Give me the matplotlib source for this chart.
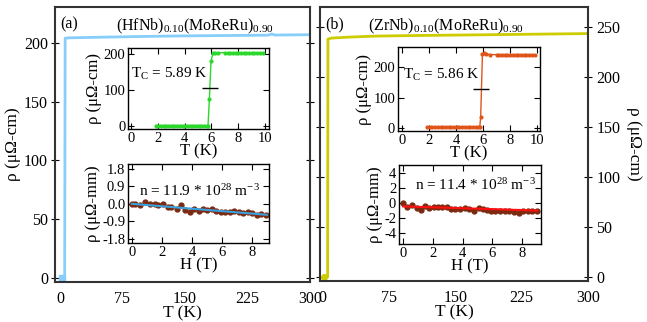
import matplotlib
matplotlib.use("Agg")
import matplotlib.pyplot as plt

plt.rcParams['font.family'] = ['Liberation Serif', 'DejaVu Serif']
plt.rcParams['mathtext.fontset'] = 'custom'
plt.rcParams['mathtext.rm'] = 'Liberation Serif'
plt.rcParams['mathtext.it'] = 'Liberation Serif:italic'
plt.rcParams['axes.unicode_minus'] = False

# ---------------- data ----------------
# Panel (a) main: rho vs T
Ta_main = [2, 5.6, 6.2, 10, 30, 60, 100, 150, 200, 250, 254, 258, 300]
Ra_main = [0, 0, 204, 204.3, 204.6, 205.0, 205.5, 206.0, 206.3, 206.6, 207.6, 206.7, 207.0]
# Panel (b) main
Tb_main = [2, 5.6, 6.0, 10, 30, 60, 100, 150, 200, 250, 300]
Rb_main = [0, 0, 238, 239, 240, 241, 241.5, 242, 242.5, 243, 243.5]

# Panel (a) inset: low-T transition
Ta_in = [1.85, 2.05, 2.25, 2.45, 2.65, 2.85, 3.05, 3.25, 3.45, 3.65, 3.85, 4.05, 4.25,
         4.45, 4.65, 4.85, 5.05, 5.25, 5.45, 5.65, 5.75, 5.85, 5.97, 6.12, 6.3, 6.5,
         7.0, 7.2, 7.4, 7.6, 7.8, 8.0, 8.2, 8.4, 8.6, 8.8, 9.0, 9.2, 9.4, 9.6, 9.85]
Ra_in = [2, 2, 2, 2, 2, 2, 2, 2, 2, 2, 2, 2, 2,
         2, 2, 2, 2, 2, 2, 2, 2, 75, 180, 203, 204, 204,
         204, 204, 204, 204, 204, 204, 204, 204, 204, 204, 204, 204, 204, 204, 204]
Tc_a = 5.89
Tc_a_rho = 106

# Panel (b) inset
Tb_in = [1.85, 2.05, 2.25, 2.45, 2.65, 2.85, 3.05, 3.25, 3.45, 3.65, 3.85, 4.05, 4.25,
         4.45, 4.65, 4.85, 5.05, 5.25, 5.45, 5.65, 5.75, 5.82, 5.95, 6.05, 6.25, 6.5,
         7.0, 7.2, 7.4, 7.6, 7.8, 8.0, 8.2, 8.4, 8.6, 8.8, 9.0, 9.2, 9.4, 9.6, 9.85]
Rb_in = [2, 2, 2, 2, 2, 2, 2, 2, 2, 2, 2, 2, 2,
         2, 2, 2, 2, 2, 2, 2, 2, 36, 244, 245, 243, 241,
         241, 241, 241, 241, 241, 241, 241, 241, 241, 241, 241, 241, 241, 241, 241]
Tc_b = 5.86
Tc_b_rho = 127

# Hall data
Ha = [0, 0.2, 0.53, 0.87, 1.2, 1.53, 1.76, 2.09, 2.38, 2.64, 2.98, 3.27, 3.53, 3.87,
      4.15, 4.47, 4.75, 5.04, 5.36, 5.64, 5.93, 6.2, 6.53, 6.82, 7.13, 7.42, 7.76,
      8.04, 8.31, 8.64, 8.91]
Rha = [0.0, -0.03, -0.05, 0.07, 0.0, -0.03, -0.07, 0.0, -0.14, -0.15, -0.24, -0.08,
       -0.3, -0.42, -0.25, -0.36, -0.27, -0.3, -0.27, -0.36, -0.44, -0.42, -0.42,
       -0.39, -0.42, -0.47, -0.44, -0.49, -0.59, -0.51, -0.57]
fit_a_H = [0, 9]
fit_a_R = [0.0, -0.56]

Hb = [0, 0.25, 0.58, 0.92, 1.2, 1.48, 1.77, 2.05, 2.34, 2.62, 2.95, 3.24, 3.51, 3.85,
      4.14, 4.45, 4.74, 5.07, 5.34, 5.63, 5.92, 6.19, 6.52, 6.82, 7.13, 7.42, 7.76,
      8.04, 8.37, 8.64, 8.97]
Rhb = [0.0, -0.5, -0.27, -0.63, -0.86, -0.36, -0.59, -0.54, -0.5, -0.5, -0.5, -0.72,
       -0.81, -0.72, -0.63, -0.72, -0.95, -0.59, -0.77, -0.86, -0.95, -1.04, -1.04,
       -0.95, -1.04, -1.17, -1.22, -0.95, -1.04, -1.04, -0.95]
fit_b_H = [0, 9]
fit_b_R = [-0.4, -0.95]

# ---------------- colors ----------------
c_a = '#87CEFA'
c_b = '#CCCC00'
c_green = '#2BD82B'
c_orange = '#E0541A'
c_dot = '#7A2A10'
c_fit_a = '#3AA0E0'
c_fit_b = '#FF1010'

fig = plt.figure(figsize=(6.47, 3.22), dpi=100)

# main axes
axa = fig.add_axes([0.085, 0.124, 0.394, 0.854])
axb = fig.add_axes([0.4946, 0.127, 0.414, 0.851])

FS = 11.5
for ax in (axa, axb):
    for s in ax.spines.values():
        s.set_linewidth(1.5)
        s.set_color('#333333')

axa.plot(Ta_main, Ra_main, color=c_a, lw=2)
axa.plot([Ta_main[0]], [Ra_main[0]], 's', color=c_a, ms=4)
axa.set_xlim(-6, 300)
axa.set_ylim(-3.5, 230.5)
axa.set_xticks([0, 75, 150, 225, 300])
axa.set_yticks([0, 50, 100, 150, 200])
axa.tick_params(axis='y', which='both', left=True, right=True, direction='inout', length=6,
                labelsize=FS, pad=2)
axa.tick_params(axis='x', bottom=False, labelsize=FS, pad=3)
axa.set_xlabel('T (K)', fontsize=FS + 1, labelpad=-1)
axa.set_ylabel('ρ (μΩ-cm)', fontsize=FS + 1, labelpad=2)
axa.text(0.02, 0.965, '(a)', transform=axa.transAxes, fontsize=FS, va='top')
axa.text(0.55, 0.965, '(HfNb)$_{0.10}$(MoReRu)$_{0.90}$', transform=axa.transAxes,
         fontsize=FS, va='top', ha='center')

axb.plot(Tb_main, Rb_main, color=c_b, lw=2)
axb.plot([Tb_main[0]], [Rb_main[0]], 'o', color=c_b, ms=4)
axb.set_xlim(-3, 300)
axb.set_ylim(-4, 270)
axb.set_xticks([0, 75, 150, 225, 300])
axb.set_yticks([0, 50, 100, 150, 200, 250])
axb.yaxis.tick_right()
axb.yaxis.set_label_position('right')
axb.tick_params(axis='y', which='both', left=True, right=True, labelleft=False, labelright=True,
                direction='inout', length=6, labelsize=FS, pad=3)
axb.tick_params(axis='x', bottom=False, labelsize=FS, pad=3)
axb.set_xlabel('T (K)', fontsize=FS + 1, labelpad=-1)
axb.set_ylabel('ρ (μΩ-cm)', fontsize=FS + 1, rotation=270, labelpad=16)
axb.text(0.02, 0.965, '(b)', transform=axb.transAxes, fontsize=FS, va='top')
axb.text(0.47, 0.965, '(ZrNb)$_{0.10}$(MoReRu)$_{0.90}$', transform=axb.transAxes,
         fontsize=FS, va='top', ha='center')

IFS = 10.5

def style_inset(ax):
    for s in ax.spines.values():
        s.set_linewidth(1.0)
        s.set_color('black')
    ax.tick_params(direction='in', top=True, right=True, length=4, labelsize=IFS, pad=2)

# inset a upper
ia1 = fig.add_axes([0.198, 0.599, 0.218, 0.252])
style_inset(ia1)
ia1.plot(Ta_in, Ra_in, '-o', color=c_green, ms=2, lw=1)
ia1.plot([Tc_a], [Tc_a_rho], marker='_', color='black', ms=11, mew=1)
ia1.set_xlim(-0.2, 10.3)
ia1.set_ylim(-8, 217)
ia1.set_xticks([0, 2, 4, 6, 8, 10])
ia1.set_yticks([0, 100, 200])
ia1.set_xlabel('T (K)', fontsize=IFS + 1.5, labelpad=-1)
ia1.set_ylabel('ρ (μΩ-cm)', fontsize=IFS + 1.5, labelpad=1)
ia1.text(0.05, 145, 'T$_\\mathrm{C}$ = 5.89 K', fontsize=IFS + 0.5, va='center')

# inset a lower
ia2 = fig.add_axes([0.198, 0.2453, 0.218, 0.2453])
style_inset(ia2)
ia2.plot(Ha, Rha, 'o', color=c_dot, ms=3.5)
ia2.plot(fit_a_H, fit_a_R, '-', color=c_fit_a, lw=1.5)
ia2.set_xlim(-0.25, 9.15)
ia2.set_ylim(-2.0, 2.03)
ia2.set_xticks([0, 2, 4, 6, 8])
ia2.set_yticks([1.8, 0.9, 0.0, -0.9, -1.8])
ia2.set_yticklabels(['1.8', '0.9', '0.0', '-0.9', '-1.8'])
ia2.set_xlabel('H (T)', fontsize=IFS + 1.5, labelpad=-1)
ia2.set_ylabel('ρ (μΩ-mm)', fontsize=IFS + 1.5, labelpad=1)
ia2.text(0.45, 0.65, 'n = 11.9 * 10$^{28}$ m$^{-3}$', fontsize=IFS + 0.5, va='center')

# inset b upper
ib1 = fig.add_axes([0.615, 0.593, 0.2195, 0.261])
style_inset(ib1)
ib1.plot(Tb_in, Rb_in, '-o', color=c_orange, ms=2, lw=1)
ib1.plot([Tc_b], [Tc_b_rho], marker='_', color='black', ms=11, mew=1)
ib1.set_xlim(-0.3, 10.2)
ib1.set_ylim(-10, 266)
ib1.set_xticks([0, 2, 4, 6, 8, 10])
ib1.set_yticks([0, 100, 200])
ib1.set_xlabel('T (K)', fontsize=IFS + 1.5, labelpad=-1)
ib1.set_ylabel('ρ (μΩ-cm)', fontsize=IFS + 1.5, labelpad=1)
ib1.text(0.05, 175, 'T$_\\mathrm{C}$ = 5.86 K', fontsize=IFS + 0.5, va='center')

# inset b lower
ib2 = fig.add_axes([0.6167, 0.2422, 0.2195, 0.2453])
style_inset(ib2)
ib2.plot(Hb, Rhb, 'o', color=c_dot, ms=3.5)
ib2.plot(fit_b_H, fit_b_R, '-', color=c_fit_b, lw=1.5)
ib2.set_xlim(-0.27, 9.26)
ib2.set_ylim(-5.4, 5.1)
ib2.set_xticks([0, 2, 4, 6, 8])
ib2.set_yticks([4, 2, 0, -2, -4])
ib2.set_yticklabels(['4', '2', '0', '-2', '-4'])
ib2.set_xlabel('H (T)', fontsize=IFS + 1.5, labelpad=-1)
ib2.set_ylabel('ρ (μΩ-mm)', fontsize=IFS + 1.5, labelpad=1)
ib2.text(0.8, 2.5, 'n = 11.4 * 10$^{28}$ m$^{-3}$', fontsize=IFS + 0.5, va='center')

fig.savefig('out.png', dpi=100)
